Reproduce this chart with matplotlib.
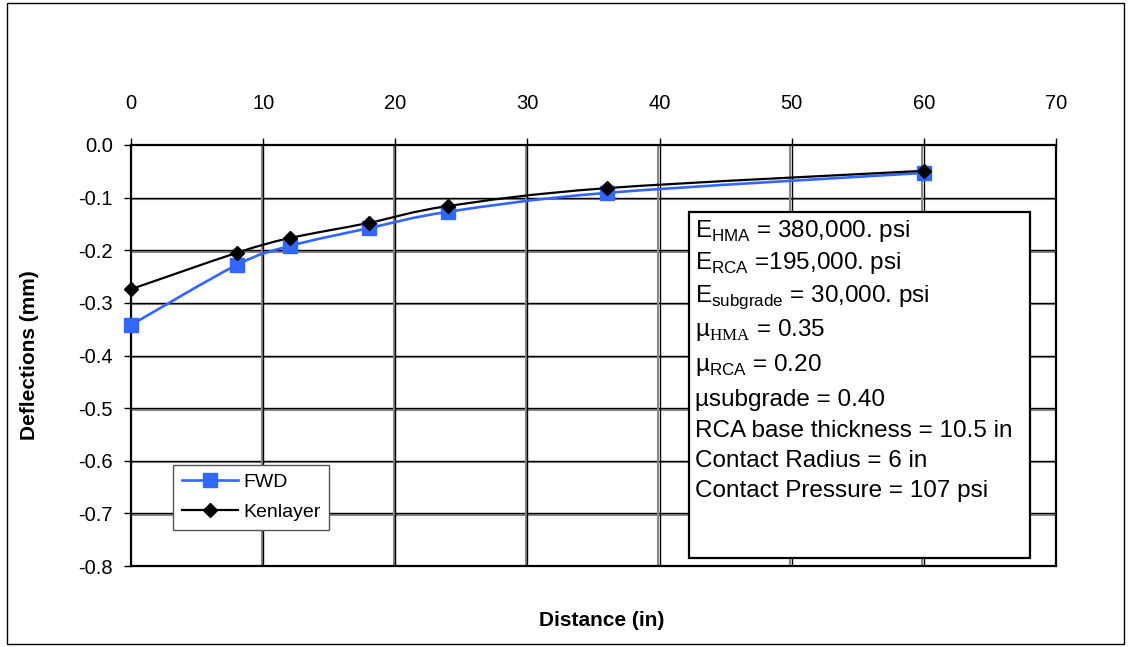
import matplotlib
matplotlib.use("Agg")
import matplotlib.pyplot as plt
import matplotlib.transforms as mtransforms
from matplotlib.path import Path
from matplotlib.patches import PathPatch, Rectangle
from matplotlib.lines import Line2D

plt.rcParams['font.family'] = ['Liberation Sans', 'DejaVu Sans']
plt.rcParams['mathtext.fontset'] = 'custom'
plt.rcParams['mathtext.rm'] = 'Liberation Serif'
plt.rcParams['mathtext.sf'] = 'Liberation Sans'

# data
distance = [0, 8, 12, 18, 24, 36, 60]
fwd = [-0.342, -0.228, -0.192, -0.158, -0.127, -0.091, -0.053]
kenlayer = [-0.274, -0.205, -0.177, -0.148, -0.116, -0.082, -0.049]

x_ticks = [0, 10, 20, 30, 40, 50, 60, 70]
y_ticks = [0.0, -0.1, -0.2, -0.3, -0.4, -0.5, -0.6, -0.7, -0.8]

info_lines = [
    "E$_\\mathsf{HMA}$ = 380,000. psi",
    "E$_\\mathsf{RCA}$ =195,000. psi",
    "E$_\\mathsf{subgrade}$ = 30,000. psi",
    "\u00b5$_\\mathrm{HMA}$ = 0.35",
    "\u00b5$_\\mathsf{RCA}$ = 0.20",
    "\u00b5subgrade = 0.40",
    "RCA base thickness = 10.5 in",
    "Contact Radius = 6 in",
    "Contact Pressure = 107 psi",
]


def smooth_path(xs, ys):
    # Excel style smoothed line (bezier through the points)
    pts = list(zip(xs, ys))
    verts = [pts[0]]
    codes = [Path.MOVETO]
    n = len(pts)
    for i in range(n - 1):
        p0 = pts[i - 1] if i > 0 else pts[i]
        p1 = pts[i]
        p2 = pts[i + 1]
        p3 = pts[i + 2] if i + 2 < n else pts[i + 1]
        c1 = (p1[0] + (p2[0] - p0[0]) / 6, p1[1] + (p2[1] - p0[1]) / 6)
        c2 = (p2[0] - (p3[0] - p1[0]) / 6, p2[1] - (p3[1] - p1[1]) / 6)
        verts += [c1, c2, p2]
        codes += [Path.CURVE4] * 3
    return Path(verts, codes)


fig = plt.figure(figsize=(11.3, 6.47), dpi=100)
ax = fig.add_axes([131 / 1130, 1 - 566 / 647, 925 / 1130, 421 / 647])

ax.set_xlim(0, 70)
ax.set_ylim(-0.8, 0.0)
ax.set_xticks(x_ticks)
ax.set_yticks(y_ticks)
ax.set_yticklabels(["%.1f" % v for v in y_ticks])
ax.xaxis.tick_top()
ax.tick_params(axis='x', labelsize=14.5, length=5, width=1, pad=18)
ax.tick_params(axis='y', labelsize=14.5, length=5, width=1, pad=8)
for s in ax.spines.values():
    s.set_linewidth(1.6)
    s.set_color('black')

# grid: black line with grey shadow
px = 1 / 100
down = ax.transData + mtransforms.ScaledTranslation(0, -1.5 * px, fig.dpi_scale_trans)
left = ax.transData + mtransforms.ScaledTranslation(-1.5 * px, 0, fig.dpi_scale_trans)
for v in y_ticks[1:-1]:
    ax.plot([0, 70], [v, v], color='#8a8a8a', lw=1.5, transform=down, zorder=1)
    ax.axhline(v, color='black', lw=1.0, zorder=1)
for v in x_ticks[1:-1]:
    ax.plot([v, v], [-0.8, 0], color='#8a8a8a', lw=1.5, transform=left, zorder=1)
    ax.axvline(v, color='black', lw=1.0, zorder=1)

ax.add_patch(PathPatch(smooth_path(distance, fwd), facecolor='none',
                       edgecolor='#3366ff', lw=1.9, zorder=3))
ax.plot(distance, fwd, ls='none', marker='s', ms=9.5, color='#3366ff', zorder=4,
        clip_on=False)
ax.add_patch(PathPatch(smooth_path(distance, kenlayer), facecolor='none',
                       edgecolor='black', lw=1.6, zorder=3))
ax.plot(distance, kenlayer, ls='none', marker='D', ms=7.5, color='black', zorder=5,
        clip_on=False)

handles = [Line2D([], [], color='#3366ff', lw=1.9, marker='s', ms=9.5),
           Line2D([], [], color='black', lw=1.6, marker='D', ms=7.5)]
leg = ax.legend(handles, ['FWD', 'Kenlayer'], loc='lower left',
                bbox_to_anchor=(42 / 925, 36 / 421), borderaxespad=0,
                fontsize=14, fancybox=False, framealpha=1, edgecolor='#555555',
                handlelength=2.9, handletextpad=0.25, borderpad=0.45,
                labelspacing=0.65)
leg.get_frame().set_linewidth(1.0)
leg.set_zorder(6)

# parameter box
ax.add_patch(Rectangle((558 / 925, 8 / 421), 341 / 925, 346 / 421, transform=ax.transAxes,
                       facecolor='white', edgecolor='black', lw=1.6, zorder=6))
baselines = [237, 269, 302, 336, 371, 406, 437, 467, 497]
for txt, yb in zip(info_lines, baselines):
    ax.text(564 / 925, (566 - yb) / 421, txt, transform=ax.transAxes, fontsize=17.5,
            va='baseline', ha='left', zorder=7)

fig.text(30 / 1130, 1 - 355 / 647, 'Deflections (mm)', rotation=90, fontsize=15,
         fontweight='bold', ha='center', va='center')
fig.text(602 / 1130, 1 - 620 / 647, 'Distance (in)', fontsize=15,
         fontweight='bold', ha='center', va='center')

fig.patches.append(Rectangle((7 / 1130, 3 / 647), 1117 / 1130, 641 / 647,
                             transform=fig.transFigure, fill=False,
                             edgecolor='black', lw=1.0))

fig.savefig('out.png', dpi=100)
